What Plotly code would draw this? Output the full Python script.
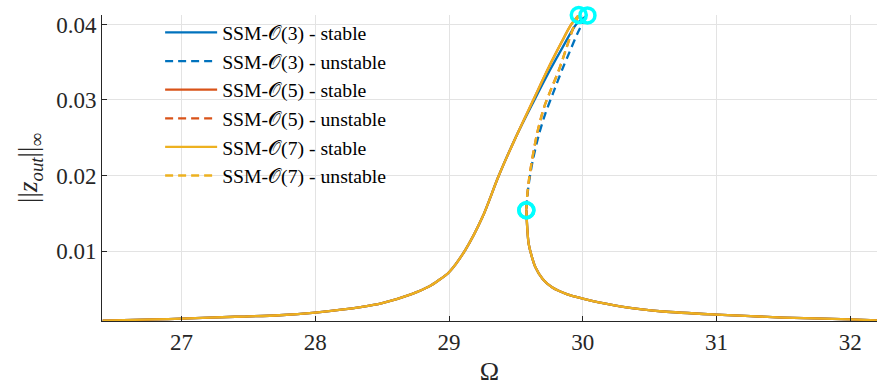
import plotly.graph_objects as go

# ---- data ----
# stable branch left of the resonance, up to the upper fold
left_x_o57 = [26.41, 26.8, 27.0, 27.4, 27.73, 28.0, 28.35, 28.5, 28.72, 28.85, 28.92, 29.0, 29.12, 29.25, 29.37, 29.50, 29.63, 29.75, 29.84, 29.91, 29.97]
left_y_o57 = [0.00080, 0.00095, 0.00105, 0.00130, 0.00150, 0.00186, 0.0026, 0.0031, 0.0043, 0.0053, 0.0061, 0.0072, 0.0101, 0.0145, 0.0199, 0.0251, 0.0300, 0.0345, 0.0376, 0.0399, 0.04125]
left_x_o3 = [26.41, 26.8, 27.0, 27.4, 27.73, 28.0, 28.35, 28.5, 28.72, 28.85, 28.92, 29.0, 29.12, 29.25, 29.37, 29.50, 29.63, 29.75, 29.85, 29.95, 30.025]
left_y_o3 = [0.00080, 0.00095, 0.00105, 0.00130, 0.00150, 0.00186, 0.0026, 0.0031, 0.0043, 0.0053, 0.0061, 0.0072, 0.0101, 0.0145, 0.0199, 0.0251, 0.0297, 0.0338, 0.0370, 0.0400, 0.0411]

# unstable branch (from upper fold down to lower fold)
unst_x_o57 = [29.97, 29.93, 29.88, 29.82, 29.76, 29.71, 29.66, 29.62, 29.595, 29.583, 29.578]
unst_y_o57 = [0.04125, 0.0396, 0.0370, 0.0339, 0.0313, 0.0290, 0.0257, 0.0220, 0.0191, 0.0170, 0.0154]
unst_x_o3 = [30.025, 29.96, 29.90, 29.85, 29.78, 29.72, 29.67, 29.625, 29.597, 29.584, 29.578]
unst_y_o3 = [0.0411, 0.0388, 0.0363, 0.0342, 0.0310, 0.0282, 0.0253, 0.0219, 0.0190, 0.0170, 0.0154]

# stable branch right of the lower fold
right_x = [29.578, 29.585, 29.595, 29.62, 29.645, 29.70, 29.77, 29.88, 30.0, 30.12, 30.34, 30.6, 31.0, 31.5, 32.0, 32.2]
right_y = [0.0154, 0.0130, 0.0110, 0.0092, 0.0079, 0.0063, 0.0052, 0.0043, 0.0037, 0.0032, 0.0025, 0.0020, 0.00159, 0.00120, 0.00096, 0.00083]

# saddle-node bifurcation points
sn_x_o3 = [30.035, 29.578]
sn_y_o3 = [0.0412, 0.0154]
sn_x_o57 = [29.97, 29.578]
sn_y_o57 = [0.04125, 0.0154]

orders = ["3", "5", "7"]
colors = ["#0072BD", "#D95319", "#EDB120"]
x_ticks = [27, 28, 29, 30, 31, 32]
y_ticks = [0.01, 0.02, 0.03, 0.04]

fig = go.Figure()
for order, col in zip(orders, colors):
    if order == "3":
        lx, ly, ux, uy = left_x_o3, left_y_o3, unst_x_o3, unst_y_o3
    else:
        lx, ly, ux, uy = left_x_o57, left_y_o57, unst_x_o57, unst_y_o57
    fig.add_trace(go.Scatter(
        x=lx + [None] + right_x, y=ly + [None] + right_y, mode="lines",
        line=dict(color=col, width=2.3, shape="spline", smoothing=0.8),
        name=f"SSM-𝒪({order}) - stable", connectgaps=False))
    fig.add_trace(go.Scatter(
        x=ux, y=uy, mode="lines",
        line=dict(color=col, width=2.3, dash="8px,5px", shape="spline", smoothing=0.8),
        name=f"SSM-𝒪({order}) - unstable"))

for sx, sy in [(sn_x_o3, sn_y_o3), (sn_x_o57, sn_y_o57)]:
    fig.add_trace(go.Scatter(
        x=sx, y=sy, mode="markers", showlegend=False, cliponaxis=False,
        marker=dict(symbol="circle-open", size=15, color="#00FFFF", line=dict(width=3.5, color="#00FFFF"))))

font_fam = "Liberation Serif, DejaVu Serif, serif"
fig.update_layout(
    width=877, height=392,
    margin=dict(l=102, r=0, t=15, b=71),
    paper_bgcolor="white", plot_bgcolor="white",
    font=dict(family=font_fam, color="#262626", size=22),
    showlegend=True,
    legend=dict(x=0.075, y=1.006, xanchor="left", yanchor="top", bgcolor="rgba(0,0,0,0)",
                font=dict(size=19.7, color="#000000", family=font_fam),
                traceorder="normal", itemwidth=52),
    xaxis=dict(range=[26.405, 32.2], tickvals=x_ticks, ticktext=[str(v) for v in x_ticks],
               showgrid=True, gridcolor="#E3E3E3", gridwidth=1, zeroline=False,
               showline=True, linecolor="#262626", linewidth=1,
               ticks="inside", ticklen=5, tickcolor="#262626",
               tickfont=dict(size=23),
               title=dict(text="Ω", font=dict(size=26), standoff=8)),
    yaxis=dict(range=[0.00074, 0.04125], tickvals=y_ticks, ticktext=["0.01", "0.02", "0.03", "0.04"],
               showgrid=True, gridcolor="#E3E3E3", gridwidth=1, zeroline=False,
               showline=True, linecolor="#262626", linewidth=1,
               ticks="inside", ticklen=5, tickcolor="#262626",
               tickfont=dict(size=23),
               title=dict(text="||<i>z</i><sub><i>out</i></sub>||<sub>∞</sub>", font=dict(size=27), standoff=10)),
)

fig.write_html("out.html")
